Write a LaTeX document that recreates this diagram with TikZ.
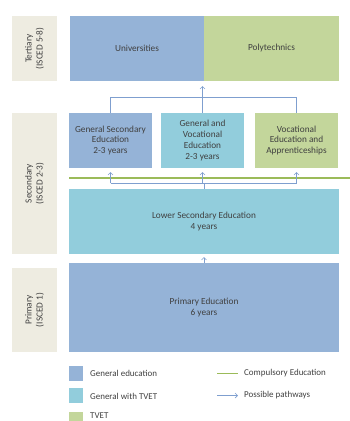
\documentclass[tikz,border=0pt]{standalone}
\usepackage{fontspec}
\setmainfont{Carlito}
\usetikzlibrary{arrows.meta}
\definecolor{genblue}{HTML}{95B3D7}
\definecolor{tvetmix}{HTML}{92CDDC}
\definecolor{tvetgreen}{HTML}{C3D69B}
\definecolor{labbeige}{HTML}{EEECE1}
\definecolor{compgreen}{HTML}{9BBB59}
\definecolor{pathblue}{HTML}{7F9FCF}
\definecolor{txtgray}{HTML}{404040}
\tikzset{
  box/.style={rectangle, inner sep=0pt, align=center, text=txtgray, font=\fontsize{9.3}{11}\selectfont},
  lab/.style={box, fill=labbeige, rotate=90},
  path/.style={draw=pathblue, line width=0.7pt, -{Straight Barb[length=2.5pt,width=5pt]}},
  pline/.style={draw=pathblue, line width=0.7pt},
  comp/.style={draw=compgreen, line width=2pt},
  legsq/.style={rectangle, inner sep=0pt, minimum width=14bp, minimum height=15bp},
  legtxt/.style={anchor=west, inner sep=0pt, text=txtgray, font=\fontsize{9}{10}\selectfont},
}
\begin{document}
\begin{tikzpicture}[x=1bp,y=-1bp]
\useasboundingbox (0,0) rectangle (350,421);
% level labels
\node[lab, minimum width=65bp, minimum height=45bp] (tert) at (34.5,48.5) {Tertiary\\(ISCED 5-8)};
\node[lab, minimum width=141bp, minimum height=45bp] (sec) at (34.5,183.5) {Secondary\\(ISCED 2-3)};
\node[lab, minimum width=84bp, minimum height=45bp] (prim) at (34.5,310) {Primary\\(ISCED 1)};
% tertiary
\node[box, fill=genblue, minimum width=134bp, minimum height=65bp] (uni) at (137,48.5) {Universities};
\node[box, fill=tvetgreen, minimum width=135bp, minimum height=65bp] (poly) at (271.5,48.5) {Polytechnics};
% upper secondary
\node[box, fill=genblue, minimum width=83bp, minimum height=55bp] (gse) at (110.5,140.5) {General Secondary\\Education\\2-3 years};
\node[box, fill=tvetmix, minimum width=83bp, minimum height=55bp] (gve) at (202.5,140.5) {General and\\Vocational\\Education\\2-3 years};
\node[box, fill=tvetgreen, minimum width=83bp, minimum height=55bp] (vea) at (296.5,140.5) {Vocational\\Education and\\Apprenticeships};
% lower secondary
\node[box, fill=tvetmix, minimum width=270bp, minimum height=65bp] (lse) at (204,221.5) {Lower Secondary Education\\4 years};
% primary
\node[box, fill=genblue, minimum width=270bp, minimum height=89bp] (pe) at (204,307.5) {Primary Education\\6 years};
% compulsory line
\coordinate (cl1) at (69,178);
\coordinate (cl2) at (350,178);
\draw[comp] (cl1) -- (cl2);
% pathways upper to tertiary
\coordinate (tb) at (202.5,97);
\coordinate (tt) at (202.5,86);
\draw[pline] (gse.north) |- (tb);
\draw[pline] (vea.north) |- (tb);
\draw[pline] (gve.north) -- (tb);
\draw[path] (tb) -- (tt);
% pathways lower to upper
\coordinate (lb) at (204,183);
\coordinate (lb1) at (110.5,183);
\coordinate (lb2) at (202.5,183);
\coordinate (lb3) at (296.5,183);
\coordinate (la1) at (110.5,172);
\coordinate (la2) at (202.5,172);
\coordinate (la3) at (296.5,172);
\draw[pline] (lse.north) -- (lb);
\draw[pline] (lb1) -- (lb3);
\draw[path] (lb1) -- (la1);
\draw[path] (lb2) -- (la2);
\draw[path] (lb3) -- (la3);
% primary to lower
\coordinate (pa) at (204,257);
\draw[path] (pe.north) -- (pa);
% legend
\node[legsq, fill=genblue] (lg1) at (76,373.5) {};
\node[legsq, fill=tvetmix] (lg2) at (76,395.5) {};
\node[legsq, fill=tvetgreen] (lg3) at (76,419.5) {};
\node[legtxt] (lt1) at (90,373.5) {General education};
\node[legtxt] (lt2) at (90,396) {General with TVET};
\node[legtxt] (lt3) at (90,415.5) {TVET};
\coordinate (lc1) at (217,373.5);
\coordinate (lc2) at (238,373.5);
\draw[comp, line width=1.5pt] (lc1) -- (lc2);
\node[legtxt] (lt4) at (244,373.5) {Compulsory Education};
\coordinate (lp1) at (217,395.5);
\coordinate (lp2) at (238,395.5);
\draw[path] (lp1) -- (lp2);
\node[legtxt] (lt5) at (244,395.5) {Possible pathways};
\end{tikzpicture}
\end{document}
